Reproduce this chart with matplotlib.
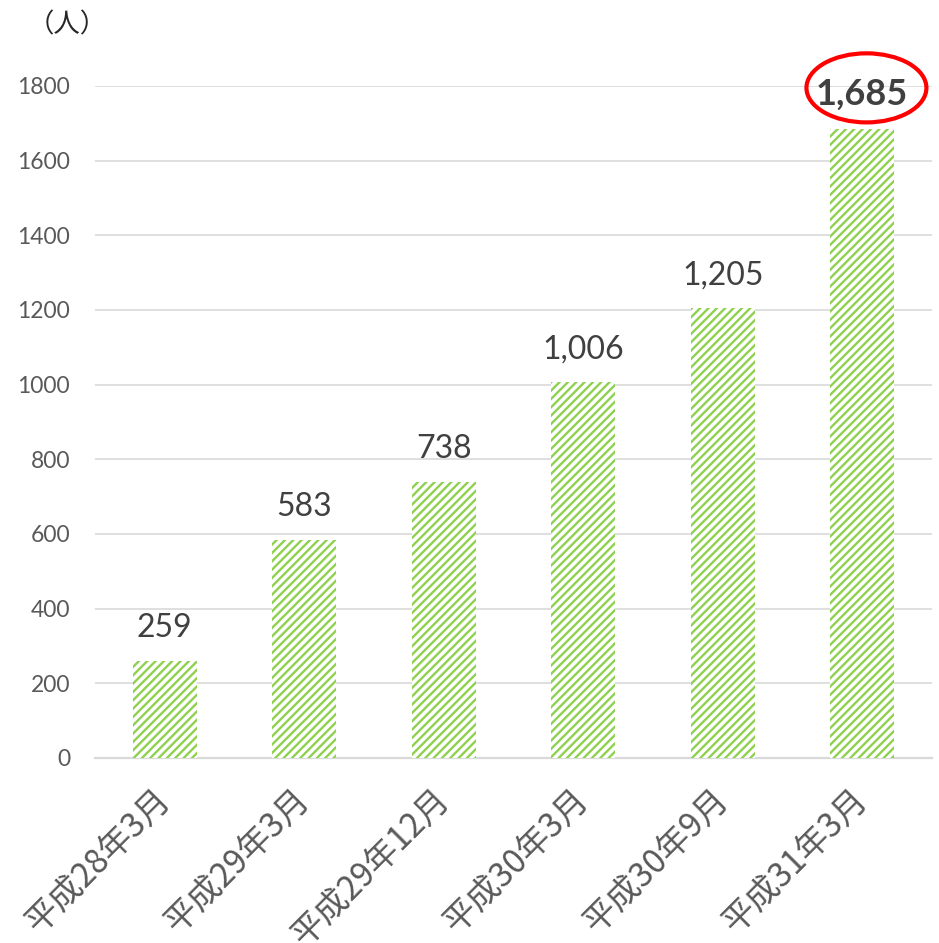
import matplotlib
matplotlib.use("Agg")
import matplotlib.pyplot as plt
from matplotlib.patches import Ellipse

categories = ["平成28年3月", "平成29年3月", "平成29年12月", "平成30年3月", "平成30年9月", "平成31年3月"]
values = [259, 583, 738, 1006, 1205, 1685]
yticks = [0, 200, 400, 600, 800, 1000, 1200, 1400, 1600, 1800]

plt.rcParams['font.family'] = ['Lato', 'Noto Sans CJK JP', 'DejaVu Sans']
plt.rcParams['hatch.linewidth'] = 1.7
plt.rcParams['hatch.color'] = '#8fd14f'

W, H = 939, 943
fig = plt.figure(figsize=(W/100, H/100), dpi=100)
ax = fig.add_axes([95/W, 1 - 758/H, (932-95)/W, (758-86)/H])

x = list(range(len(categories)))
bars = ax.bar(x, values, width=0.46, facecolor='white', edgecolor='#8fd14f',
              hatch='////', linewidth=0, zorder=3)

ax.set_xlim(-0.5, len(categories) - 0.5)
ax.set_ylim(0, 1800)
ax.set_yticks(yticks)
ax.set_yticklabels([str(t) for t in yticks], fontsize=16.5, color='#595959')
ax.yaxis.grid(True, color='#d9d9d9', linewidth=1.2, zorder=0)
ax.set_axisbelow(True)
for s in ['top', 'right', 'left']:
    ax.spines[s].set_visible(False)
ax.spines['bottom'].set_color('#d9d9d9')
ax.spines['bottom'].set_linewidth(1.6)
ax.tick_params(axis='both', length=0)
ax.tick_params(axis='y', pad=18)

ax.set_xticks(x)
ax.set_xticklabels(categories, fontsize=24, color='#595959', rotation=45,
                   ha='right', va='center', rotation_mode='anchor',
                   family=['Noto Sans CJK JP', 'DejaVu Sans'])
ax.tick_params(axis='x', pad=26)

for i, v in enumerate(values):
    last = (i == len(values) - 1)
    ax.annotate(f"{v:,}", xy=(i, v), xytext=(0, 13), textcoords='offset points',
                ha='center', va='bottom', fontsize=26 if last else 23,
                fontweight='bold' if last else 'normal', color='#404040',
                annotation_clip=False)

ell = Ellipse((5.03, 1795), width=0.86, height=185, fill=False, edgecolor='#ff0000',
              linewidth=3, clip_on=False, zorder=5)
ax.add_patch(ell)

fig.text(28/W, 1 - 25/H, "（人）", fontsize=19, color='#262626', ha='left', va='center',
         family=['Noto Sans CJK JP', 'DejaVu Sans'])

fig.savefig("out.png", dpi=100)
